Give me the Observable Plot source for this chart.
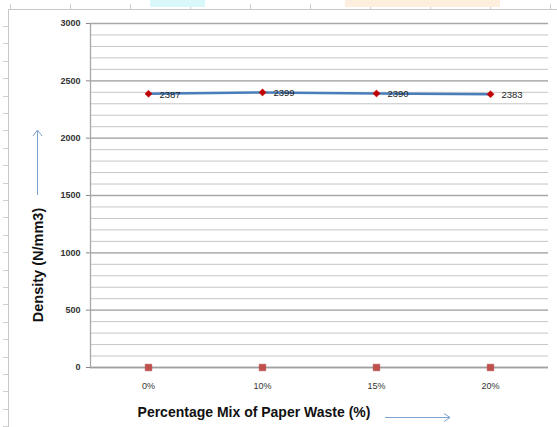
<!DOCTYPE html>
<html>
<head>
<meta charset="utf-8">
<script src="https://cdn.jsdelivr.net/npm/d3@7"></script>
<script src="https://cdn.jsdelivr.net/npm/@observablehq/plot@0.6"></script>
<style>
  html, body { margin: 0; padding: 0; background: #fff; }
  #chart { width: 557px; height: 427px; }
</style>
</head>
<body>
<div id="chart"></div>
<script>
const categories = ["0%", "10%", "15%", "20%"];
const density = [2387, 2399, 2390, 2383];
const baseSeries = [0, 0, 0, 0];
const yMajorTicks = [0, 500, 1000, 1500, 2000, 2500, 3000];
const yMinorTicks = d3.range(0, 3001, 100);

const rows = categories.map((c, i) => ({cat: c, density: density[i], base: baseSeries[i]}));

const font = "Liberation Sans, Arial, sans-serif";

function decorations(index, scales, values, dim) {
  const svg = d3.create("svg:g");
  // outer spreadsheet frame
  svg.append("line").attr("x1", 8.5).attr("x2", 8.5).attr("y1", 9).attr("y2", 427)
    .attr("stroke", "#c8c8c8").attr("stroke-width", 1);
  svg.append("line").attr("x1", 8).attr("x2", 557).attr("y1", 9.5).attr("y2", 9.5)
    .attr("stroke", "#c8c8c8").attr("stroke-width", 1);
  for (let y = 26; y < 427; y += 17.4) {
    svg.append("line").attr("x1", 3).attr("x2", 8).attr("y1", Math.round(y) + 0.5).attr("y2", Math.round(y) + 0.5)
      .attr("stroke", "#d0d0d0");
  }
  for (let x = 10; x < 557; x += 60) {
    svg.append("line").attr("x1", x + 0.5).attr("x2", x + 0.5).attr("y1", 4).attr("y2", 9)
      .attr("stroke", "#d0d0d0");
  }
  svg.append("rect").attr("x", 150).attr("y", 0).attr("width", 55).attr("height", 7).attr("fill", "#d8f8fb");
  svg.append("rect").attr("x", 345).attr("y", 0).attr("width", 155).attr("height", 7).attr("fill", "#fdeedd");
  // y axis line
  const x0 = dim.marginLeft;
  svg.append("line").attr("x1", x0 + 0.5).attr("x2", x0 + 0.5)
    .attr("y1", scales.y(3000)).attr("y2", scales.y(0))
    .attr("stroke", "#a8a8a8").attr("stroke-width", 1.3);
  // y axis title
  svg.append("text").attr("transform", "translate(39,265) rotate(-90)")
    .attr("text-anchor", "middle").attr("dominant-baseline", "middle")
    .attr("font-family", font).attr("font-weight", "bold").attr("font-size", 14.5).attr("fill", "#111")
    .text("Density (N/mm3)");
  // x axis title
  svg.append("text").attr("x", 254).attr("y", 413)
    .attr("text-anchor", "middle").attr("dominant-baseline", "middle")
    .attr("font-family", font).attr("font-weight", "bold").attr("font-size", 14).attr("fill", "#111")
    .text("Percentage Mix of Paper Waste (%)");
  // arrows
  const ac = "#7fa3cf";
  svg.append("line").attr("x1", 37.5).attr("x2", 37.5).attr("y1", 195).attr("y2", 131).attr("stroke", ac);
  svg.append("path").attr("d", "M33,136 L37.5,130 L42,136").attr("fill", "none").attr("stroke", ac);
  svg.append("line").attr("x1", 385).attr("x2", 450).attr("y1", 417.5).attr("y2", 417.5).attr("stroke", ac);
  svg.append("path").attr("d", "M444,413.5 L450,417.5 L444,421.5").attr("fill", "none").attr("stroke", ac);
  return svg.node();
}

const chart = Plot.plot({
  width: 557,
  height: 427,
  marginLeft: 90,
  marginRight: 9,
  marginTop: 23,
  marginBottom: 60,
  style: {fontFamily: font, background: "#fff"},
  x: {type: "point", domain: categories, padding: 0.5, axis: null},
  y: {domain: [0, 3000], axis: null},
  marks: [
    Plot.ruleY(yMinorTicks, {stroke: "#c6c6c6", strokeWidth: 1}),
    Plot.ruleY(yMajorTicks, {stroke: "#a8a8a8", strokeWidth: 1.3}),
    Plot.axisY(yMajorTicks, {tickSize: 4, tickPadding: 6, stroke: "#888", fontSize: 9, fill: "#333", fontWeight: "bold", tickFormat: d => String(d)}),
    Plot.axisX({tickSize: 0, tickPadding: 15, fontSize: 9, fill: "#333", label: null}),
    Plot.ruleY([0], {stroke: "#a0a0a0", strokeWidth: 1.3}),
    Plot.line(rows, {x: "cat", y: "density", stroke: "#4a7ebb", strokeWidth: 2.5}),
    Plot.dot(rows, {x: "cat", y: "density", symbol: "diamond2", r: 3.2, fill: "#c00000", stroke: "#c00000", strokeWidth: 0.5}),
    Plot.text(rows, {x: "cat", y: "density", text: d => String(d.density), textAnchor: "start", dx: 11, dy: 1, fontSize: 9.5, fill: "#222"}),
    Plot.dot(rows, {x: "cat", y: "base", symbol: "square2", r: 4.2, fill: "#c0504d", stroke: "#b04440", strokeWidth: 0.5}),
    decorations
  ]
});
document.getElementById("chart").appendChild(chart);
</script>
</body>
</html>
